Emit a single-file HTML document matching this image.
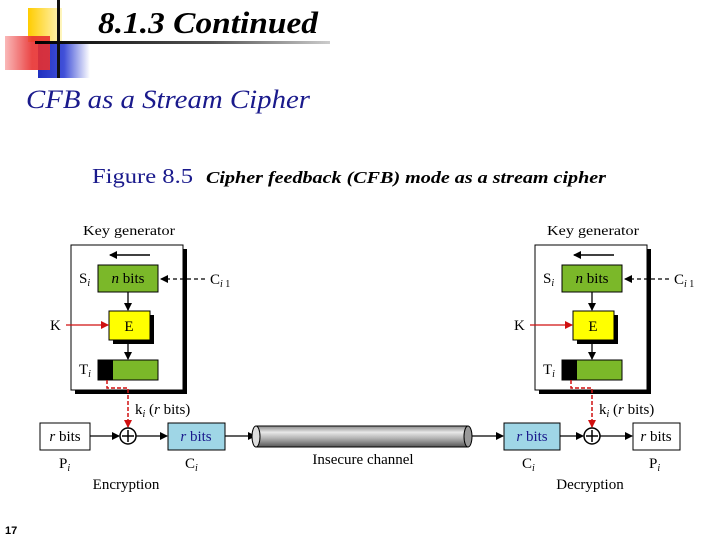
<!DOCTYPE html>
<html><head><meta charset="utf-8"><style>
html,body{margin:0;padding:0;background:#fff;}
svg{display:block}
text{font-family:"Liberation Serif",serif;}
</style></head><body>
<svg width="720" height="540" viewBox="0 0 720 540" xmlns="http://www.w3.org/2000/svg">
<defs>
<linearGradient id="gy" x1="0" x2="1"><stop offset="0" stop-color="#ffcc00"/><stop offset="1" stop-color="#fff6c0"/></linearGradient>
<linearGradient id="gr" x1="0" x2="1"><stop offset="0" stop-color="#f9b0b0"/><stop offset="0.6" stop-color="#e83030"/><stop offset="1" stop-color="#e83030"/></linearGradient>
<linearGradient id="gb" x1="0" x2="1"><stop offset="0" stop-color="#2030c0"/><stop offset="0.5" stop-color="#4050d8"/><stop offset="1" stop-color="#ffffff"/></linearGradient>
<linearGradient id="gl" x1="0" x2="1"><stop offset="0" stop-color="#000"/><stop offset="0.6" stop-color="#555"/><stop offset="1" stop-color="#ccc"/></linearGradient>
<linearGradient id="cyl" x1="0" y1="0" x2="0" y2="1"><stop offset="0" stop-color="#888"/><stop offset="0.3" stop-color="#e8e8e8"/><stop offset="0.6" stop-color="#b0b0b0"/><stop offset="1" stop-color="#555"/></linearGradient>
<marker id="ab" markerWidth="8" markerHeight="8" refX="7" refY="4" orient="auto" markerUnits="userSpaceOnUse"><path d="M0,0 L8,4 L0,8 z" fill="#000"/></marker>
<marker id="ar" markerWidth="8" markerHeight="8" refX="7" refY="4" orient="auto" markerUnits="userSpaceOnUse"><path d="M0,0 L8,4 L0,8 z" fill="#d01010"/></marker>
</defs>
<rect x="28" y="8" width="34" height="34" fill="url(#gy)"/>
<rect x="38" y="42" width="52" height="36" fill="url(#gb)"/>
<rect x="5" y="36" width="45" height="34" fill="url(#gr)" opacity="0.9"/>
<rect x="57" y="0" width="3" height="78" fill="#111"/>
<rect x="35" y="41" width="295" height="3" fill="url(#gl)"/>
<text x="98" y="33" font-size="31" font-style="italic" font-weight="bold" fill="#000" textLength="220" lengthAdjust="spacingAndGlyphs">8.1.3  Continued</text>
<text x="26" y="108" font-size="26" font-style="italic" fill="#1a1a8c" textLength="284" lengthAdjust="spacingAndGlyphs">CFB as a Stream Cipher</text>
<text x="92" y="183" font-size="21" fill="#1a1a8c" textLength="101" lengthAdjust="spacingAndGlyphs">Figure 8.5</text>
<text x="206" y="183" font-size="17" font-style="italic" font-weight="bold" fill="#000" textLength="400" lengthAdjust="spacingAndGlyphs">Cipher feedback (CFB) mode as a stream cipher</text>
<text x="5" y="534" font-size="11" font-weight="bold" style="font-family:'Liberation Sans',sans-serif">17</text>

<g id="kg">
<text x="83" y="235" font-size="14" textLength="92" lengthAdjust="spacingAndGlyphs">Key generator</text>
<rect x="75" y="249" width="112" height="145" fill="#000"/>
<rect x="71" y="245" width="112" height="145" fill="#fff" stroke="#000"/>
<line x1="150" y1="255" x2="110" y2="255" stroke="#000" stroke-width="1.5" marker-end="url(#ab)"/>
<rect x="98" y="265" width="60" height="27" fill="#7bb829" stroke="#000"/>
<text x="128" y="283" font-size="15" text-anchor="middle"><tspan font-style="italic">n</tspan> bits</text>
<text x="79" y="283" font-size="15">S<tspan font-size="10" font-style="italic" dy="3">i</tspan></text>
<line x1="205" y1="279" x2="161" y2="279" stroke="#000" stroke-width="1.2" stroke-dasharray="4,3" marker-end="url(#ab)"/>
<text x="210" y="284" font-size="15">C<tspan font-size="10" font-style="italic" dy="3">i</tspan><tspan font-size="10"> 1</tspan></text>
<line x1="128" y1="292" x2="128" y2="310" stroke="#000" stroke-width="1.3" marker-end="url(#ab)"/>
<rect x="113" y="315" width="41" height="29" fill="#000"/>
<rect x="109" y="311" width="41" height="29" fill="#ffff00" stroke="#000"/>
<text x="129" y="331" font-size="15" text-anchor="middle">E</text>
<text x="50" y="330" font-size="15">K</text>
<line x1="66" y1="325" x2="108" y2="325" stroke="#d01010" stroke-width="1.3" marker-end="url(#ar)"/>
<line x1="128" y1="340" x2="128" y2="359" stroke="#000" stroke-width="1.3" marker-end="url(#ab)"/>
<rect x="98" y="360" width="60" height="20" fill="#7bb829" stroke="#000"/>
<rect x="98" y="360" width="15" height="20" fill="#000"/>
<text x="79" y="374" font-size="15">T<tspan font-size="10" font-style="italic" dy="3">i</tspan></text>
<polyline points="107,380 107,388 128,388 128,427" fill="none" stroke="#d01010" stroke-width="1.5" stroke-dasharray="4,2" marker-end="url(#ar)"/>
<text x="135" y="414" font-size="15">k<tspan font-size="10" font-style="italic" dy="3">i</tspan><tspan dy="-3"> (</tspan><tspan font-style="italic">r</tspan> bits)</text>
<circle cx="128" cy="436" r="8" fill="#fff" stroke="#000" stroke-width="1.5"/>
<line x1="128" y1="430" x2="128" y2="442" stroke="#000" stroke-width="1.5"/>
<line x1="122" y1="436" x2="134" y2="436" stroke="#000" stroke-width="1.5"/>
</g>
<use href="#kg" transform="translate(464,0)"/>

<rect x="40" y="423" width="50" height="27" fill="#fff" stroke="#000"/>
<text x="65" y="441" font-size="15" text-anchor="middle"><tspan font-style="italic">r</tspan> bits</text>
<line x1="90" y1="436" x2="119" y2="436" stroke="#000" stroke-width="1.2" marker-end="url(#ab)"/>
<line x1="136" y1="436" x2="167" y2="436" stroke="#000" stroke-width="1.2" marker-end="url(#ab)"/>
<rect x="168" y="423" width="57" height="27" fill="#9fd6e6" stroke="#000"/>
<text x="196" y="441" font-size="15" text-anchor="middle" fill="#1a1a8c"><tspan font-style="italic">r</tspan> bits</text>
<text x="59" y="468" font-size="15">P<tspan font-size="10" font-style="italic" dy="3">i</tspan></text>
<text x="185" y="468" font-size="15">C<tspan font-size="10" font-style="italic" dy="3">i</tspan></text>
<text x="126" y="489" font-size="15" text-anchor="middle">Encryption</text>
<line x1="225" y1="436" x2="255" y2="436" stroke="#000" stroke-width="1.2" marker-end="url(#ab)"/>
<rect x="256" y="426" width="212" height="21" fill="url(#cyl)" stroke="#000"/>
<ellipse cx="468" cy="436.5" rx="4" ry="10.5" fill="#999" stroke="#000"/>
<ellipse cx="256" cy="436.5" rx="4" ry="10.5" fill="#ddd" stroke="#000"/>
<text x="363" y="464" font-size="15" text-anchor="middle">Insecure channel</text>
<line x1="472" y1="436" x2="503" y2="436" stroke="#000" stroke-width="1.2" marker-end="url(#ab)"/>
<rect x="504" y="423" width="56" height="27" fill="#9fd6e6" stroke="#000"/>
<text x="532" y="441" font-size="15" text-anchor="middle" fill="#1a1a8c"><tspan font-style="italic">r</tspan> bits</text>
<line x1="560" y1="436" x2="583" y2="436" stroke="#000" stroke-width="1.2" marker-end="url(#ab)"/>
<line x1="600" y1="436" x2="632" y2="436" stroke="#000" stroke-width="1.2" marker-end="url(#ab)"/>
<rect x="633" y="423" width="47" height="27" fill="#fff" stroke="#000"/>
<text x="656" y="441" font-size="15" text-anchor="middle"><tspan font-style="italic">r</tspan> bits</text>
<text x="522" y="468" font-size="15">C<tspan font-size="10" font-style="italic" dy="3">i</tspan></text>
<text x="649" y="468" font-size="15">P<tspan font-size="10" font-style="italic" dy="3">i</tspan></text>
<text x="590" y="489" font-size="15" text-anchor="middle">Decryption</text>
</svg>
</body></html>
